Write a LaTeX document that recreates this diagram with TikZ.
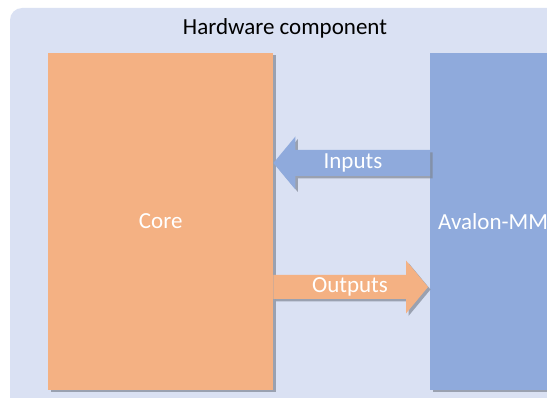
\documentclass[tikz,border=0pt]{standalone}
\usepackage{fontspec}
\setmainfont{Carlito}
\usetikzlibrary{shadows,calc}
\definecolor{bgblue}{HTML}{DAE1F3}
\definecolor{coreorange}{HTML}{F4B183}
\definecolor{avblue}{HTML}{8FAADC}
\definecolor{shadowgray}{HTML}{7F8794}
\begin{document}
\begin{tikzpicture}[x=1pt,y=1pt,
  font=\fontsize{23}{27}\selectfont,
  block/.style={draw=none, anchor=south west, inner sep=0pt,
    minimum height=337pt, text=white},
  shade/.style={drop shadow={shadow xshift=2.5pt, shadow yshift=-2.5pt,
    fill=shadowgray, opacity=0.7}},
  label/.style={text=white, inner sep=0pt}]
\useasboundingbox (0,0) rectangle (547,397);
\clip (0,0) rectangle (547,397);

% container
\fill[bgblue, rounded corners=12pt] (10,-20) rectangle (590,389);
\node[inner sep=0pt] (title) at (285,369) {Hardware component};

% the two blocks
\node[block, fill=coreorange, minimum width=225pt, shade] (core) at (48,7) {Core};
\node[block, fill=avblue, minimum width=160pt, shade] (av) at (430,7) {};
\node[label, anchor=west] (avlabel) at ($(av.west)+(8,0)$) {Avalon-MM};

% block arrow: Avalon-MM -> Core
\coordinate (inTip) at (core.east |- 0,234);
\coordinate (inEnd) at (av.west |- 0,234);
\fill[avblue, shade]
  (inTip) -- ++(22,26.5) -- ++(0,-13.5) -- ($(inEnd)+(0,13)$)
  -- ($(inEnd)+(0,-13)$) -- ($(inTip)+(22,-13)$) -- ++(0,-13.5) -- cycle;
\node[label] (inlabel) at (353,234) {Inputs};

% block arrow: Core -> Avalon-MM
\coordinate (outTail) at (core.east |- 0,110);
\coordinate (outTip) at ($(av.west |- 0,110)+(-2,0)$);
\fill[coreorange, shade]
  ($(outTail)+(0,12)$) -- ($(outTip)+(-22,12)$) -- ++(0,14.5) -- (outTip)
  -- ($(outTip)+(-22,-26.5)$) -- ++(0,14.5) -- ($(outTail)+(0,-12)$) -- cycle;
\node[label] (outlabel) at (350,110) {Outputs};
\end{tikzpicture}
\end{document}
